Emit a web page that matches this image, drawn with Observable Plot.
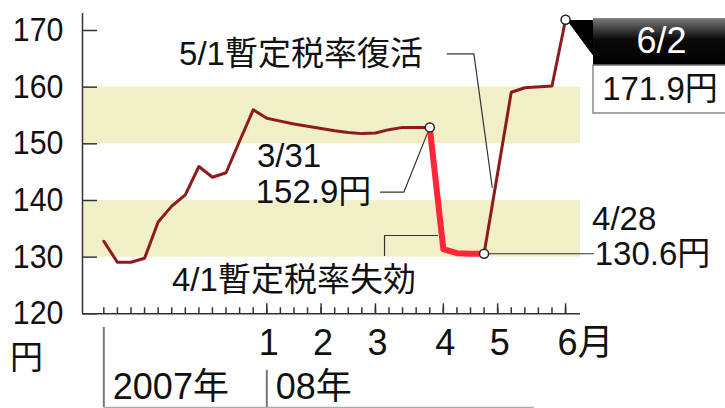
<!DOCTYPE html>
<html><head><meta charset="utf-8">
<script src="https://cdn.jsdelivr.net/npm/d3@7"></script>
<script src="https://cdn.jsdelivr.net/npm/@observablehq/plot@0.6"></script>
<style>html,body{margin:0;padding:0;background:#fff;}</style>
</head><body><div id="chart"></div>
<script>
// ---- data (weekly index: 0 = early Oct 2007, 12 = first week of Jan 2008) ----
const weekIdx = [0,1,2,3,4,5,6,7,8,9,10,11,12,13,14,15,16,17,18,19,20,21,22,23,24,25,26,27,28,30,31,33,34];
const price   = [132.8,129.1,129.1,129.8,136.2,139.0,141.0,146.0,144.1,144.9,150.5,156.0,154.5,154.0,153.5,153.1,152.7,152.3,152.0,151.8,151.9,152.5,152.9,152.9,152.9,131.4,130.7,130.6,130.6,159.1,159.9,160.2,171.9];
const lapseStart = 24, lapseEnd = 28;           // 3/31 .. 4/28 (provisional tax lapsed)
const markedWeeks = [24, 28, 34];                // 3/31, 4/28, 6/2
const yTicks = [120,130,140,150,160,170];
const weekTicks = d3.range(0, 35);
const monthTicks = [12,16,20,25,29,34];
const monthLabels = ["1","2","3","4","5","6月"];
const bandLow = [130,150], bandHigh = [140,160];
const yearLabels = ["2007年","08年"];
const yearStarts = [0,12];

// ---- derived tables ----
const rows = weekIdx.map((w,i)=>({w, p: price[i]}));
const segRows = [];
rows.forEach(r=>{
  if (r.w <= lapseStart) segRows.push({...r, seg:"before"});
  if (r.w >= lapseStart && r.w <= lapseEnd) segRows.push({...r, seg:"lapse"});
  if (r.w >= lapseEnd) segRows.push({...r, seg:"after"});
});
const marked = rows.filter(r=>markedWeeks.includes(r.w));
const bands = bandLow.map((lo,i)=>({lo, hi: bandHigh[i]}));

// ---- layout / annotation placement (data units) ----
const xDomain = [-1.57, 35.1];
const FONT = "'Liberation Sans','Noto Sans CJK JP',sans-serif";
const leaders = [
  {id:"a", w:20.38, p:141.46},{id:"a", w:22.09, p:141.46},{id:"a", w:24, p:152.9},
  {id:"b", w:25.29, p:165.88},{id:"b", w:27.25, p:165.88},{id:"b", w:28.6, p:142.34},
  {id:"c", w:20.67, p:130.29},{id:"c", w:20.67, p:133.82},{id:"c", w:24.57, p:133.82},
  {id:"d", w:28, p:130.6},{id:"d", w:36.06, p:130.6}
];
const pointer = [{w:34.15,p:171.76},{w:36.06,p:171.76},{w:36.06,p:165.58},{w:34.15,p:171.76}];
const labelsMid = [
  {w:14.52, p:165.7, t:"5/1暫定税率復活"},
  {w:13.64, p:147.7, t:"3/31"},
  {w:15.44, p:141.5, t:"152.9円"},
  {w:14.0,  p:125.9, t:"4/1暫定税率失効"},
  {w:40.95, p:159.6, t:"171.9円"},
  {w:-5.69, p:112.1, t:"円"}
];
const labelsStart = [
  {w:35.95, p:136.7, t:"4/28"},
  {w:36.15, p:130.5, t:"130.6円"}
];

const chart = Plot.plot({
  width: 725, height: 408,
  marginLeft: 82, marginRight: 145, marginTop: 13, marginBottom: 94.7,
  x: {domain: xDomain},
  y: {domain: [120, 173]},
  style: {fontFamily: FONT, background: "#fff", color: "#111", overflow: "visible"},
  marks: [
    Plot.rect(bands, {y1:"lo", y2:"hi", fill:"#f1efc8"}),
    Plot.ruleX([xDomain[0]], {stroke:"#333", strokeWidth:1.5}),
    Plot.ruleY([120], {stroke:"#333", strokeWidth:1.5}),
    Plot.axisY({ticks: yTicks, tickSize: 15, dx: 15, tickFormat: () => "", label: null, stroke:"#333", strokeWidth:1.5}),
    Plot.axisY({ticks: yTicks, tickSize: 0, tickPadding: 19, label: null, fontSize: 33, fill:"#111"}),
    Plot.axisX({ticks: weekTicks, tickSize: 6, dy: -6, tickFormat: () => "", label: null, stroke:"#333", strokeWidth:1.5}),
    Plot.axisX({ticks: monthTicks, tickSize: 10, dy: -10, tickFormat: () => "", label: null, stroke:"#333", strokeWidth:1.5}),
    Plot.text(monthTicks, {x: d=>d, y: ()=>114.8, text: (d,i)=>monthLabels[i], textAnchor:"start", dx:-8, fontSize:36, fill:"#111", ariaLabel:"month"}),
    // year row
    Plot.ruleX([yearStarts[0]], {y1: 117.6, y2: 103.47, stroke:"#777", strokeWidth:2}),
    Plot.ruleX([yearStarts[1]], {y1: 110.0, y2: 103.47, stroke:"#777", strokeWidth:2}),
    Plot.ruleY([103.47], {x1: 0, x2: 31.7, stroke:"#aaa", strokeWidth:1.5}),
    Plot.text(yearLabels, {x: (d,i)=>yearStarts[i], y: ()=>107.0, text: d=>d, textAnchor:"start", dx: 9, fontSize:36, fill:"#111", ariaLabel:"year"}),
    // leaders
    Plot.line(leaders, {x:"w", y:"p", z:"id", stroke:"#333", strokeWidth:1.2}),
    // price line
    Plot.line(segRows.filter(d=>d.seg!=="lapse"), {x:"w", y:"p", z:"seg", stroke:"#8e1b1b", strokeWidth:3, strokeLinejoin:"round"}),
    Plot.line(segRows.filter(d=>d.seg==="lapse"), {x:"w", y:"p", stroke:"#ff2638", strokeWidth:6, strokeLinejoin:"round"}),
    // callout box for 6/2
    Plot.line(pointer, {x:"w", y:"p", fill:"#000", stroke:"#000", strokeWidth:1}),
    Plot.rect([{x1:36.06,x2:45.9,y1:163.8,y2:172.1}], {x1:"x1",x2:"x2",y1:"y1",y2:"y2", fill:"url(#boxgrad)"}),
    Plot.rect([{x1:36.06,x2:45.9,y1:155.35,y2:163.8}], {x1:"x1",x2:"x2",y1:"y1",y2:"y2", fill:"#fff", stroke:"#888", strokeWidth:1.5}),
    Plot.text(["6/2"], {x: ()=>41.07, y: ()=>168.0, text: d=>d, fill:"#fff", fontSize:36, ariaLabel:"datebox"}),
    Plot.dot(marked, {x:"w", y:"p", r:4.5, fill:"#fff", stroke:"#222", strokeWidth:1.5}),
    Plot.text(labelsMid, {x:"w", y:"p", text:"t", textAnchor:"middle", fontSize:33, fill:"#111", ariaLabel:"note"}),
    Plot.text(labelsStart, {x:"w", y:"p", text:"t", textAnchor:"start", fontSize:33, fill:"#111", ariaLabel:"note"})
  ]
});
// gradient for the black date box
const ns = "http://www.w3.org/2000/svg";
const defs = document.createElementNS(ns, "defs");
defs.innerHTML = '<linearGradient id="boxgrad" x1="0" y1="0" x2="0" y2="1"><stop offset="0" stop-color="#7a7a7a"/><stop offset="0.45" stop-color="#0a0a0a"/><stop offset="1" stop-color="#000"/></linearGradient>';
chart.insertBefore(defs, chart.firstChild);
// condensed (長体) lettering: squeeze glyphs horizontally about their anchor
const squeeze = {'g[aria-label="y-axis tick label"] text':0.92, 'g[aria-label="month"] text':0.88, 'g[aria-label="year"] text':0.9, 'g[aria-label="note"] text':0.97, 'g[aria-label="datebox"] text':1.15};
for (const [sel,k] of Object.entries(squeeze)) {
  chart.querySelectorAll(sel).forEach(t=>{
    const tr = t.getAttribute("transform");
    if (tr && tr.startsWith("translate")) t.setAttribute("transform", tr + ` scale(${k},1)`);
  });
}
document.getElementById("chart").appendChild(chart);
</script></body></html>
